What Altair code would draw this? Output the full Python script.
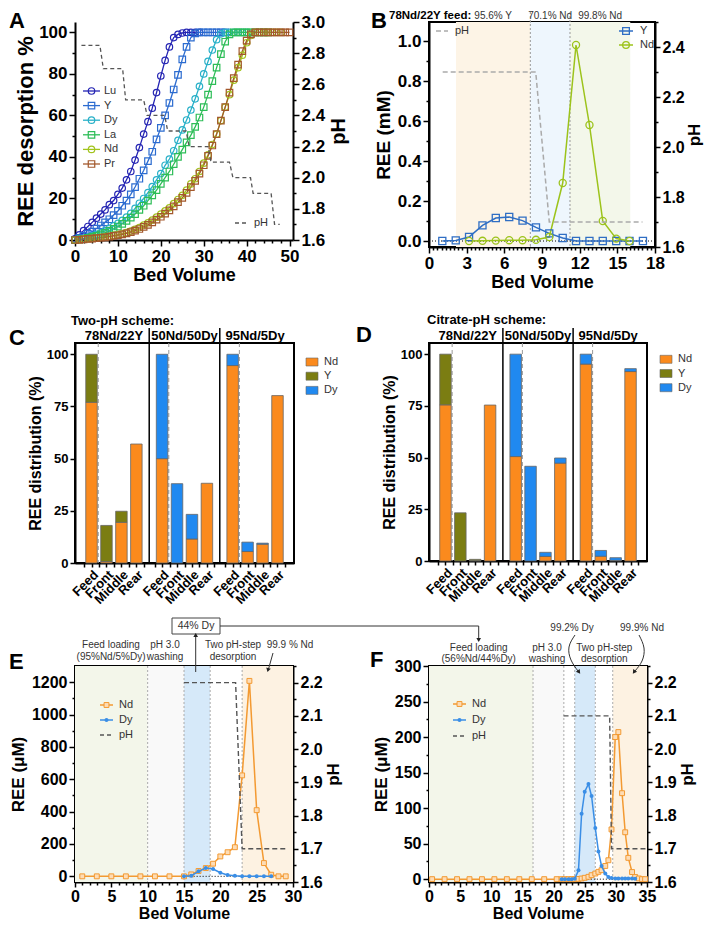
import altair as alt
import pandas as pd

FONT = "Liberation Sans"

# ---------------- Panel A : stepwise-pH desorption curves ----------------
A_SERIES = ["Lu", "Y", "Dy", "La", "Nd", "Pr"]
a_bv = list(range(0, 51))
a_lu = [0.5, 2.5, 4.5, 6.5, 8.5, 10.5, 12.5, 14.5, 17, 19, 22, 25, 29, 33, 38.5, 44.5, 51, 57, 63.5, 71,
        79, 86.5, 93, 97.5, 99, 99.7, 100, 100, 100, 100]
a_y = [0, 1, 2, 3, 4, 5.5, 7, 8.5, 10, 12, 14, 16.5, 19, 22, 25.5, 29.5, 33.5, 38, 42.5, 48.5,
       54, 60, 66, 72.5, 79.5, 87, 93, 97.5, 99.5, 100, 100, 100, 100, 100, 100, 100]
a_dy = [0, 0.4, 0.8, 1.3, 2, 2.7, 3.5, 4.5, 5.6, 6.8, 8, 9.5, 11, 12.8, 15.2, 17.7, 20, 22.8, 25.7, 29,
        32, 36, 39, 43, 48, 53, 57.8, 62.6, 68, 74, 80, 86, 91.5, 96.5, 99.3, 100, 100, 100, 100, 100, 100]
a_la = [0, 0.3, 0.6, 1, 1.5, 2, 2.7, 3.5, 4.4, 5.4, 6.5, 7.8, 9.2, 10.8, 12.5, 14.5, 16.5, 19, 21.5, 24,
        27, 30, 33, 36.5, 40, 43.5, 47, 50.5, 54.5, 59, 64, 70, 76.5, 83, 89.5, 95.5, 99, 100, 100, 100,
        100, 100, 100, 100, 100, 100]
a_nd = [0, 0.2, 0.4, 0.6, 0.8, 1, 1.3, 1.5, 1.8, 2.2, 2.6, 3, 3.6, 4.3, 5.1, 6, 7.2, 8.3, 9.6, 11,
        12.5, 14, 15.5, 17.5, 19.5, 21.5, 24, 27, 29.5, 33, 37, 41, 46, 51, 57.5, 64, 70, 77, 83, 89,
        95, 98.5, 100, 100, 100, 100, 100, 100, 100]
a_pr = [0, 0.1, 0.3, 0.5, 0.7, 0.9, 1.1, 1.3, 1.6, 2, 2.3, 2.7, 3.2, 3.8, 4.5, 5.3, 6.3, 7.3, 8.5, 9.8,
        11.2, 12.7, 14.3, 16.2, 18.2, 20.3, 22.7, 25.5, 28.5, 32, 36, 40.5, 45.5, 51, 57.5, 64, 71, 78, 84.5, 91,
        96, 99, 100, 100, 100, 100, 100, 100, 100, 100, 100]
A_VALUES = [a_lu, a_y, a_dy, a_la, a_nd, a_pr]
a_ph_bv = [1.5, 5.8, 6.6, 11.1, 11.8, 16.0, 16.8, 20.9, 21.6, 25.9, 26.6, 31.0, 31.7, 36.0, 36.8, 40.9,
           41.5, 45.7, 46.5, 47.7]
a_ph = [2.85, 2.85, 2.70, 2.70, 2.50, 2.50, 2.40, 2.40, 2.30, 2.30, 2.20, 2.20, 2.10, 2.10, 2.00, 2.00,
        1.90, 1.90, 1.70, 1.70]

# ---------------- Panel B : 78Nd/22Y feed ----------------
B_SERIES = ["Y", "Nd"]
b_y_bv = [1.06, 2.13, 3.19, 4.26, 5.32, 6.39, 7.45, 8.52, 9.58, 10.65, 11.71, 12.78, 13.84, 14.91, 15.97, 17.04]
b_y = [0, 0.003, 0.02, 0.078, 0.115, 0.12, 0.102, 0.068, 0.038, 0.015, 0, 0, 0, 0, 0, 0]
b_nd_bv = [3.19, 4.26, 5.32, 6.39, 7.45, 8.52, 9.58, 10.65, 11.71, 12.78, 13.84, 14.91, 15.97]
b_nd = [0, 0.001, 0.002, 0.004, 0.004, 0.006, 0.02, 0.29, 0.98, 0.58, 0.10, 0.012, 0]
b_ph_bv = [1.09, 8.5, 9.58, 17.0]
b_ph = [2.3, 2.3, 1.7, 1.7]
b_reg_start = [2.15, 8.07, 11.23]
b_reg_end = [8.07, 11.23, 16.03]
b_reg_label = ["95.6% Y", "70.1% Nd", "99.8% Nd"]

# ---------------- Panels C, D : REE distribution ----------------
GROUPS = ["78Nd/22Y", "50Nd/50Dy", "95Nd/5Dy"]
STAGES = ["Feed", "Front", "Middle", "Rear"]
ELEMS = ["Nd", "Y", "Dy"]
c_nd = [77.0, 0.7, 19.5, 57.0, 50.0, 0, 11.5, 38.2, 94.6, 5.5, 9.0, 80.2]
c_y = [23.0, 17.3, 5.3, 0, 0, 0, 0, 0, 0, 0, 0, 0]
c_dy = [0, 0, 0, 0, 50.0, 38.0, 11.8, 0, 5.4, 4.5, 0.5, 0]
d_nd = [75.5, 0, 0.2, 75.4, 50.5, 0, 2.2, 47.3, 95.2, 2.3, 0.3, 91.6]
d_y = [24.5, 23.3, 0.6, 0, 0, 0, 0, 0, 0, 0, 0, 0]
d_dy = [0, 0, 0, 0, 49.5, 45.8, 2.0, 2.5, 4.8, 2.8, 1.3, 1.4]

# ---------------- Panel E : 95Nd/5Dy column ----------------
e_nd_bv = [1, 3, 5, 7, 9, 11, 13, 15, 16, 17, 18, 19, 20, 21, 22, 23, 24, 25, 26, 27, 28, 29]
e_nd = [0, 0, 0, 0, 0, 0, 0, 0, 12, 33, 51, 78, 123, 149, 180, 624, 1208, 409, 82, 10, 0, 0]
e_dy_bv = [15, 16, 17, 18, 19, 20, 21, 22, 23, 24, 25, 26, 27]
e_dy = [0, 4, 31, 51, 45, 22, 8, 3, 1, 0.5, 0.3, 0.2, 0]
e_ph_bv = [15, 22.1, 23.0, 29.1]
e_ph = [2.2, 2.2, 1.7, 1.7]
e_reg_start = [0, 10, 15, 18.6, 23]
e_reg_end = [10, 15, 18.6, 23, 30]
e_reg_kind = ["load", "wash", "dy", "gap", "nd"]

# ---------------- Panel F : 56Nd/44Dy column ----------------
f_nd_bv = [0.5, 2.5, 4.5, 6.5, 8.5, 10.5, 12.5, 14.5, 16.5, 18.5, 20.5,
           21.3, 21.8, 22.4, 22.9, 23.4, 24.0, 24.5, 25.0, 25.6, 26.1, 26.7, 27.2, 27.7, 28.3, 28.8,
           29.3, 29.9, 30.4, 31.0, 31.5, 32.0, 32.6, 33.1, 33.7, 34.2, 34.7]
f_nd = [0, 0, 0, 0, 0, 0, 0, 0, 0, 0, 0,
        0, 0, 0, 0, 0, 0.3, 0.9, 1.9, 3.3, 5.6, 7.9, 10.3, 12.6, 18.6, 26.6,
        70, 200, 207, 121, 66, 30, 10, 3, 1, 0, 0]
f_dy_bv = [21.3, 21.8, 22.4, 22.9, 23.4, 24.0, 24.5, 25.0, 25.6, 26.1, 26.7, 27.2, 27.7, 28.3, 28.8,
           29.3, 29.9, 30.4, 31.0, 31.5, 32.0, 32.6, 33.1]
f_dy = [0, 0, 0, 0, 0.5, 12.6, 92, 123, 134, 117, 72, 39, 18.6, 8, 3, 1.5, 1, 1, 1, 1, 1, 0.8, 0.5]
f_ph_bv = [21.6, 29.0, 29.3, 35.0]
f_ph = [2.1, 2.1, 1.7, 1.7]
f_reg_start = [0, 16.7, 21.65, 23.4, 26.7, 29.5]
f_reg_end = [16.7, 21.65, 23.4, 26.7, 29.5, 35]
f_reg_kind = ["load", "wash", "gap", "dy", "gap", "nd"]

# ======================= styling helpers =======================
A_COLORS = ["#2424b3", "#2c6cd0", "#28b0c8", "#2dbd57", "#a2c41d", "#a3582c"]
A_SHAPES = ["circle", "square", "circle", "square", "circle", "square"]
B_COLORS = ["#2f6ec4", "#9cc31b"]
B_SHAPES = ["square", "circle"]
BAR_COLORS = ["#fb8a1d", "#7b7d12", "#2089f0"]
REG_KINDS = ["load", "wash", "gap", "dy", "nd"]
REG_COLORS = ["#f3f6ea", "#f9f9f9", "#ffffff", "#d6e9f9", "#fdf2e2"]
B_REG_COLORS = ["#f3f7ea", "#f9f9f9", "#ffffff", "#eef6fd", "#fdf4e6"]
ND_C, DY_C = "#f39a32", "#3a8ee6"

STYLE = dict(domainColor="black", domainWidth=2, tickColor="black", tickWidth=1.5,
             labelColor="black", labelFontWeight="bold", labelFont=FONT, titleFont=FONT,
             titleFontWeight="bold", titleColor="black", grid=False, labelFlush=False,
             labelOverlap=False, labelPadding=2)
FRAME = alt.ViewBackground(stroke="black", strokeWidth=2)
NOFRAME = alt.ViewBackground(strokeWidth=0)
LETTER_X = -66


def make_axis(lo, hi, minor, major, title, orient, size, tsize, fmt=None, major_len=6, minor_len=3, **extra):
    n = int(round((hi - lo) / minor))
    vals = [round(lo + k * minor, 6) for k in range(n + 1)]
    test = f"abs(datum.value / {major} - round(datum.value / {major})) < 0.001"
    props = dict(STYLE)
    props.update(values=vals, orient=orient, title=title,
                 labelExpr=f"({test}) ? datum.label : ''",
                 tickSize={"condition": {"test": test, "value": major_len}, "value": minor_len},
                 labelFontSize=size, titleFontSize=tsize)
    if fmt:
        props["format"] = fmt
    props.update(extra)
    return alt.Axis(**props)


def one():
    return pd.DataFrame({"t": [""]})


def txt(s, x, y, size=10, weight="normal", align="center", baseline="middle", color="#333"):
    return alt.Chart(pd.DataFrame({"t": [s]})).mark_text(
        align=align, baseline=baseline, fontSize=size, fontWeight=weight, color=color, font=FONT
    ).encode(x=alt.value(x), y=alt.value(y), text="t:N")


def seg(x1, y1, x2, y2, color="#333", width=1.0, dash=None):
    kw = dict(color=color, strokeWidth=width)
    if dash:
        kw["strokeDash"] = dash
    return alt.Chart(one()).mark_rule(**kw).encode(
        x=alt.value(x1), y=alt.value(y1), x2=alt.value(x2), y2=alt.value(y2))


def head(x, y, angle, size=22, color="#222"):
    return alt.Chart(one()).mark_point(shape="triangle-up", filled=True, size=size, color=color,
                                       angle=angle, opacity=1).encode(x=alt.value(x), y=alt.value(y))


def curve(xs, ys, color="#333"):
    df = pd.DataFrame({"px": xs, "py": ys})
    return alt.Chart(df).transform_window(k="row_number()").mark_line(
        color=color, strokeWidth=1, interpolate="natural").encode(
        x=alt.X("px:Q", scale=None, axis=None), y=alt.Y("py:Q", scale=None, axis=None),
        order=alt.Order("k:Q"))


def letter(s, y):
    return txt(s, LETTER_X, y, size=22, weight="bold", align="left", baseline="alphabetic", color="black")


def long_df(names, xs_list, vals_list):
    rows = []
    for name, xs, vs in zip(names, xs_list, vals_list):
        for x, v in zip(xs, vs):
            rows.append({"series": name, "bv": x, "val": v})
    return pd.DataFrame(rows)


# ======================= Panel A =======================
WA, HA = 218, 218
dfA = long_df(A_SERIES, [a_bv] * 6, A_VALUES)
dfA_ph = pd.DataFrame({"bv": a_ph_bv, "ph": a_ph})
xA = alt.X("bv:Q", scale=alt.Scale(domain=[0, 50.8], nice=False, zero=False),
           axis=make_axis(0, 50, 2, 10, "Bed Volume", "bottom", 17, 18, titlePadding=2))
yA = alt.Y("val:Q", scale=alt.Scale(domain=[0, 105], nice=False, zero=False),
           axis=make_axis(0, 100, 10, 20, "REE desorption %", "left", 17, 22, titlePadding=1))
colA = alt.Color("series:N", scale=alt.Scale(domain=A_SERIES, range=A_COLORS), legend=None)
shpA = alt.Shape("series:N", scale=alt.Scale(domain=A_SERIES, range=A_SHAPES), legend=None)

linesA = alt.Chart(dfA).mark_line(strokeWidth=1.3).encode(x=xA, y=yA, color=colA)
ptsA = alt.Chart(dfA).mark_point(filled=False, size=42, strokeWidth=1.2, opacity=1).encode(
    x=xA, y=yA, color=colA, shape=shpA)
phA = alt.Chart(dfA_ph).mark_line(strokeDash=[4, 3], strokeWidth=1.3, color="#555").encode(
    x=xA,
    y=alt.Y("ph:Q", scale=alt.Scale(domain=[1.6, 3.0], nice=False, zero=False),
            axis=make_axis(1.6, 3.0, 0.1, 0.2, "pH", "right", 17, 20, fmt=".1f",
                           titleAngle=270, titleBaseline="top", titlePadding=4)))
legA = alt.Chart(pd.DataFrame({"series": A_SERIES})).transform_window(
    rn="row_number()").transform_calculate(ly="69 + (datum.rn - 1) * 14.6")
legA_y = alt.Y("ly:Q", scale=None, axis=None)
legA_rule = legA.mark_rule(strokeWidth=1.3).encode(x=alt.value(8), x2=alt.value(25), y=legA_y, color=colA)
legA_pt = legA.mark_point(filled=False, size=42, strokeWidth=1.2, opacity=1).encode(
    x=alt.value(16.5), y=legA_y, color=colA, shape=shpA)
legA_txt = legA.mark_text(align="left", baseline="middle", fontSize=11, font=FONT, color="#333").encode(
    x=alt.value(29), y=legA_y, text="series:N")

panelA = alt.layer(
    alt.layer(linesA, ptsA), phA, legA_rule, legA_pt, legA_txt,
    seg(160, 201, 173, 201, color="#555", width=1.3, dash=[4, 3]),
    txt("pH", 179, 201, size=11, align="left"),
    letter("A", 6),
).resolve_scale(y="independent").properties(width=WA, height=HA, view=NOFRAME)

# ======================= Panel B =======================
WB, HB = 226, 225
dfB = long_df(B_SERIES, [b_y_bv, b_nd_bv], [b_y, b_nd])
dfB_ph = pd.DataFrame({"bv": b_ph_bv, "ph": b_ph})
dfB_reg = pd.DataFrame({"start": b_reg_start, "end": b_reg_end, "label": b_reg_label,
                        "kind": ["nd", "dy", "load"]})
xsB = alt.Scale(domain=[0, 18], nice=False, zero=False)
axB = make_axis(0, 18, 1 / 3, 3, "Bed Volume", "bottom", 17, 18, fmt=".0f", titlePadding=2)
xB = alt.X("bv:Q", scale=xsB, axis=axB)
ysB = alt.Scale(domain=[-0.03, 1.095], nice=False, zero=False)
yaxB = make_axis(0, 1.0, 0.1, 0.2, "REE (mM)", "left", 17, 19, fmt=".1f", titlePadding=4)
yB = alt.Y("val:Q", scale=ysB, axis=yaxB)
colB = alt.Color("series:N", scale=alt.Scale(domain=B_SERIES, range=B_COLORS), legend=None)
shpB = alt.Shape("series:N", scale=alt.Scale(domain=B_SERIES, range=B_SHAPES), legend=None)
fillB = alt.Fill("kind:N", scale=alt.Scale(domain=REG_KINDS, range=B_REG_COLORS), legend=None)

regB = alt.Chart(dfB_reg).mark_rect().encode(
    x=alt.X("start:Q", scale=xsB, axis=axB), x2="end:Q", y=alt.value(0), y2=alt.value(HB), fill=fillB)
bndB = alt.Chart(dfB_reg).transform_filter("datum.start > 5").mark_rule(
    color="#999", strokeDash=[2, 2], strokeWidth=1).encode(
    x=alt.X("start:Q", scale=xsB, axis=axB), y=alt.value(-10), y2=alt.value(HB))
labB = alt.Chart(dfB_reg).transform_calculate(cx="(datum.start + datum.end) / 2").mark_text(
    baseline="alphabetic", fontSize=10, font=FONT, color="#333").encode(
    x=alt.X("cx:Q", scale=xsB, axis=axB), y=alt.value(-3), text="label:N")
zeroB = alt.Chart(one()).mark_rule(color="black", strokeDash=[1, 2], strokeWidth=1).encode(
    x=alt.value(0), x2=alt.value(WB), y=alt.datum(0, scale=ysB, axis=yaxB))
linesB = alt.Chart(dfB).mark_line(strokeWidth=1.5).encode(x=xB, y=yB, color=colB)
ptsB = alt.Chart(dfB).mark_point(filled=False, size=50, strokeWidth=1.3, opacity=1).encode(
    x=xB, y=yB, color=colB, shape=shpB)
phB = alt.Chart(dfB_ph).mark_line(strokeDash=[5, 3], strokeWidth=1.5, color="#aaa").encode(
    x=xB,
    y=alt.Y("ph:Q", scale=alt.Scale(domain=[1.6, 2.5], nice=False, zero=False),
            axis=make_axis(1.6, 2.5, 0.1, 0.2, "pH", "right", 16, 17, fmt=".1f", major_len=5,
                           titleAngle=270, titleBaseline="top", titlePadding=2)))
legB = alt.Chart(pd.DataFrame({"series": B_SERIES})).transform_window(
    rn="row_number()").transform_calculate(ly="9 + (datum.rn - 1) * 14")
legB_y = alt.Y("ly:Q", scale=None, axis=None)
legB_rule = legB.mark_rule(strokeWidth=1.5).encode(x=alt.value(190), x2=alt.value(204), y=legB_y, color=colB)
legB_pt = legB.mark_point(filled=False, size=45, strokeWidth=1.3, opacity=1).encode(
    x=alt.value(197), y=legB_y, color=colB, shape=shpB)
legB_txt = legB.mark_text(align="left", baseline="middle", fontSize=11, font=FONT, color="#333").encode(
    x=alt.value(211), y=legB_y, text="series:N")

panelB = alt.layer(
    alt.layer(regB, bndB, labB, zeroB, linesB, ptsB), phB, legB_rule, legB_pt, legB_txt,
    seg(7, 9, 19, 9, color="#aaa", width=1.5, dash=[5, 3]),
    txt("pH", 26, 9, size=11, align="left"),
    txt("78Nd/22Y feed:", -40, -12, size=11.5, weight="bold", align="left", baseline="top", color="black"),
    txt("B", -58, 5.5, size=22, weight="bold", align="left", baseline="alphabetic", color="black"),
).resolve_scale(y="independent", fill="independent").properties(width=WB, height=HB, view=FRAME)

# ======================= Panels C, D =======================
GAP = 4.72
STEP_LABELS = "[" + ",".join(f"'{s}'" for s in STAGES) + "]"


def bar_panel(nd, yv, dy, scheme, let, W, H, letter_y, let_x, scheme_x, scheme_y, leg_y0):
    rows = []
    for gi in range(len(GROUPS)):
        for si in range(len(STAGES)):
            k = gi * len(STAGES) + si
            for oi, (el, arr) in enumerate(zip(ELEMS, [nd, yv, dy])):
                rows.append({"gi": gi, "si": si, "elem": el, "val": arr[k], "ord": oi})
    df = pd.DataFrame(rows)
    xs = alt.Scale(domain=[-0.77, 2 * GAP + 3.77], nice=False, zero=False)
    vals = [round(g * GAP + h / 2, 4) for g in range(3) for h in range(-1, 8)]
    gexpr = f"floor((datum.value + 0.6) / {GAP})"
    rel = f"(datum.value - {GAP} * {gexpr})"
    xaxis = alt.Axis(values=vals, title=None, orient="bottom", tickSize=4,
                     labelExpr=f"(abs({rel} - round({rel})) < 0.01) ? {STEP_LABELS}[round({rel})] : ''",
                     labelAngle=315, labelAlign="right", labelBaseline="top", labelFontSize=13,
                     **{k: v for k, v in STYLE.items() if k != "labelPadding"}, labelPadding=1)
    yaxis = alt.Axis(values=[0, 25, 50, 75, 100], title="REE distribution (%)", orient="left",
                     tickSize=5, labelFontSize=13, titleFontSize=16, titlePadding=3, **STYLE)
    col = alt.Color("elem:N", scale=alt.Scale(domain=ELEMS, range=BAR_COLORS), legend=None)
    bars = alt.Chart(df).transform_filter("datum.val > 0").transform_calculate(
        pos=f"datum.gi * {GAP} + datum.si").mark_bar(
        size=11.5, orient="vertical", stroke="#666", strokeWidth=0.8).encode(
        x=alt.X("pos:Q", scale=xs, axis=xaxis),
        y=alt.Y("val:Q", stack="zero", scale=alt.Scale(domain=[0, 105.4], nice=False, zero=False), axis=yaxis),
        color=col, order=alt.Order("ord:Q", sort="ascending"))
    grp = alt.Chart(pd.DataFrame({"grp": GROUPS})).transform_window(rn="row_number()")
    hdr = grp.transform_calculate(cx=f"(datum.rn - 1) * {GAP} + 1.5").mark_text(
        baseline="alphabetic", fontSize=13, fontWeight="bold", font=FONT, color="black").encode(
        x=alt.X("cx:Q", scale=xs, axis=xaxis), y=alt.value(-3), text="grp:N")
    sep = grp.transform_filter(f"datum.rn < {len(GROUPS)}").transform_calculate(
        sx=f"(datum.rn - 1) * {GAP} + 3.86").mark_rule(color="black", strokeWidth=1.5).encode(
        x=alt.X("sx:Q", scale=xs, axis=xaxis), y=alt.value(-15), y2=alt.value(H))
    dash = grp.transform_calculate(dx=f"(datum.rn - 1) * {GAP} + 0.45").mark_rule(
        color="#999", strokeWidth=1, strokeDash=[4, 3]).encode(
        x=alt.X("dx:Q", scale=xs, axis=xaxis), y=alt.value(0), y2=alt.value(H))
    leg = alt.Chart(pd.DataFrame({"elem": ELEMS})).transform_window(rn="row_number()").transform_calculate(
        ly=f"{leg_y0} + (datum.rn - 1) * 14.2").transform_calculate(
        ly1="datum.ly - 4", ly2="datum.ly + 4")
    leg_rect = leg.mark_rect(stroke="#666", strokeWidth=0.6).encode(
        x=alt.value(231), x2=alt.value(243), y=alt.Y("ly1:Q", scale=None, axis=None), y2="ly2:Q", color=col)
    leg_txt = leg.mark_text(align="left", baseline="middle", fontSize=11, font=FONT, color="#333").encode(
        x=alt.value(249), y=alt.Y("ly:Q", scale=None, axis=None), text="elem:N")
    return alt.layer(
        dash, bars, sep, hdr, leg_rect, leg_txt,
        txt(scheme, scheme_x, scheme_y, size=13, weight="bold", align="left", baseline="alphabetic",
            color="black"),
        txt(let, let_x, letter_y, size=22, weight="bold", align="left", baseline="alphabetic", color="black"),
    ).resolve_scale(y="independent").properties(width=W, height=H, view=FRAME)


panelC = bar_panel(c_nd, c_y, c_dy, "Two-pH scheme:", "C", 219, 220, 2, LETTER_X, -4, -18, 19)
panelD = bar_panel(d_nd, d_y, d_dy, "Citrate-pH scheme:", "D", 218, 218, -1, -73, -2, -19, 16.3)


# ======================= Panels E, F =======================
def column_panel(nd_bv, nd, dy_bv, dy, ph_bv, ph, rs, re_, rk, xmax, ree_dom, ree_minor, ree_major, ree_max,
                 W, H, zero_from, zero_to, extras):
    xs = alt.Scale(domain=[0, xmax], nice=False, zero=False)
    ax = make_axis(0, xmax, 1, 5, "Bed Volume", "bottom", 16, 16, major_len=5,
                   titlePadding=1, labelPadding=1)
    ys = alt.Scale(domain=ree_dom, nice=False, zero=False)
    yax = make_axis(0, ree_max, ree_minor, ree_major, "REE (\u03bcM)", "left", 16, 17, fmt="d", titlePadding=4)
    dfr = pd.DataFrame({"start": rs, "end": re_, "kind": rk})
    fill = alt.Fill("kind:N", scale=alt.Scale(domain=REG_KINDS, range=REG_COLORS), legend=None)
    reg = alt.Chart(dfr).mark_rect().encode(
        x=alt.X("start:Q", scale=xs, axis=ax), x2="end:Q", y=alt.value(0), y2=alt.value(H), fill=fill)
    bnd = alt.Chart(dfr).transform_filter("datum.start > 0").mark_rule(
        color="#aaa", strokeDash=[2, 2], strokeWidth=1).encode(
        x=alt.X("start:Q", scale=xs, axis=ax), y=alt.value(0), y2=alt.value(H))
    zero = alt.Chart(pd.DataFrame({"a": [zero_from], "b": [zero_to]})).mark_rule(
        color="black", strokeDash=[1, 2], strokeWidth=1).encode(
        x=alt.X("a:Q", scale=xs, axis=ax), x2="b:Q", y=alt.datum(0, scale=ys, axis=yax))
    dnd = pd.DataFrame({"bv": nd_bv, "val": nd})
    ddy = pd.DataFrame({"bv": dy_bv, "val": dy})
    X = alt.X("bv:Q", scale=xs, axis=ax)
    Y = alt.Y("val:Q", scale=ys, axis=yax)
    l_dy = alt.Chart(ddy).mark_line(color=DY_C, strokeWidth=1.5).encode(x=X, y=Y)
    p_dy = alt.Chart(ddy).mark_point(shape="circle", filled=True, size=16, color=DY_C, opacity=1).encode(x=X, y=Y)
    l_nd = alt.Chart(dnd).mark_line(color=ND_C, strokeWidth=1.5).encode(x=X, y=Y)
    p_nd = alt.Chart(dnd).mark_point(shape="square", filled=True, size=24, fill="#fddcb5", stroke=ND_C,
                                     strokeWidth=1, opacity=1).encode(x=X, y=Y)
    dph = pd.DataFrame({"bv": ph_bv, "ph": ph})
    l_ph = alt.Chart(dph).mark_line(color="#555", strokeDash=[5, 3], strokeWidth=1.4).encode(
        x=X, y=alt.Y("ph:Q", scale=alt.Scale(domain=[1.6, 2.25], nice=False, zero=False),
                     axis=make_axis(1.6, 2.25, 0.05, 0.1, "pH", "right", 16, 17, fmt=".1f", major_len=5,
                                    titleAngle=270, titleBaseline="top", titlePadding=3)))
    return alt.layer(
        alt.layer(reg, bnd, zero, l_nd, p_nd, l_dy, p_dy), l_ph, *extras
    ).resolve_scale(y="independent", fill="independent").properties(width=W, height=H, view=FRAME)


def legend_ef(x0, y0, dy_):
    return [
        seg(x0, y0, x0 + 13, y0, color=ND_C, width=1.5),
        alt.Chart(one()).mark_point(shape="square", filled=True, size=24, fill="#fddcb5", stroke=ND_C,
                                    strokeWidth=1, opacity=1).encode(x=alt.value(x0 + 6.5), y=alt.value(y0)),
        txt("Nd", x0 + 19, y0, size=11, align="left"),
        seg(x0, y0 + dy_, x0 + 13, y0 + dy_, color=DY_C, width=1.5),
        alt.Chart(one()).mark_point(shape="circle", filled=True, size=16, color=DY_C, opacity=1).encode(
            x=alt.value(x0 + 6.5), y=alt.value(y0 + dy_)),
        txt("Dy", x0 + 19, y0 + dy_, size=11, align="left"),
        seg(x0, y0 + 2 * dy_, x0 + 13, y0 + 2 * dy_, color="#555", width=1.4, dash=[4, 3]),
        txt("pH", x0 + 19, y0 + 2 * dy_, size=11, align="left"),
    ]


HE = 216
# connector from the "44% Dy" box in E to the feed label of F (E and F plot lefts are 354 px apart)
extrasE = legend_ef(25, 39, 15) + [
    txt("Feed loading", 36, -21), txt("(95%Nd/5%Dy)", 36, -9),
    txt("pH 3.0", 90, -21), txt("washing", 90, -9),
    txt("Two pH-step", 158, -21), txt("desorption", 158, -9),
    txt("99.9 % Nd", 215, -21),
    seg(198, -13, 193.5, 3), head(193, 4, 195),
    alt.Chart(one()).mark_rect(fill="white", stroke="#444", strokeWidth=1).encode(
        x=alt.value(97), x2=alt.value(145), y=alt.value(-48), y2=alt.value(-32)),
    txt("44% Dy", 121, -40, size=10.5),
    seg(120.7, 6, 120.7, -30), head(120.7, -31, 0),
    seg(145, -40, 403.7, -40), seg(403.7, -40, 403.7, -27), head(403.7, -26, 180),
    letter("E", 3),
]
panelE = column_panel(e_nd_bv, e_nd, e_dy_bv, e_dy, e_ph_bv, e_ph, e_reg_start, e_reg_end, e_reg_kind,
                      30, [-35, 1300], 100, 200, 1200, 218, HE, 15.5, 27, extrasE)

extrasF = legend_ef(24, 38, 16) + [
    txt("Feed loading", 49.7, -18.3), txt("(56%Nd/44%Dy)", 49.7, -7.3),
    txt("pH 3.0", 118, -18.3), txt("washing", 118, -7.3),
    txt("Two pH-step", 175.3, -18.3), txt("desorption", 175.3, -7.3),
    txt("99.2% Dy", 143, -38.3), txt("99.9% Nd", 213, -38.3),
    curve([146, 140, 142, 149], [-31, -19, -6, 5]), head(150, 6, 145),
    curve([210, 215, 213, 206], [-31, -18, -5, 5]), head(205, 6, 215),
    txt("F", -59, 1, size=22, weight="bold", align="left", baseline="alphabetic", color="black"),
]
panelF = column_panel(f_nd_bv, f_nd, f_dy_bv, f_dy, f_ph_bv, f_ph, f_reg_start, f_reg_end, f_reg_kind,
                      35, [-4, 300], 25, 50, 300, 218, HE, 25.5, 29.5, extrasF)


# ======================= layout =======================
def gap_row(h):
    return alt.Chart(pd.DataFrame({"t": []})).mark_point(opacity=0).encode(
        x=alt.value(0), y=alt.value(0)).properties(width=1, height=h, view=NOFRAME)


cells = [panelA, panelB,
         gap_row(96), gap_row(96),
         panelC, panelD,
         gap_row(103), gap_row(103),
         panelE, panelF]
chart = alt.concat(
    *cells, columns=2, spacing=alt.RowColnumber(row=0, column=135),
    align=alt.RowColLayoutAlign(row="each", column="each"), bounds="flush"
).resolve_scale(color="independent", shape="independent", fill="independent").properties(
    padding=0).configure(font=FONT).configure_view(strokeWidth=0)

chart.save("out.html", embed_options={"renderer": "svg", "actions": False})
